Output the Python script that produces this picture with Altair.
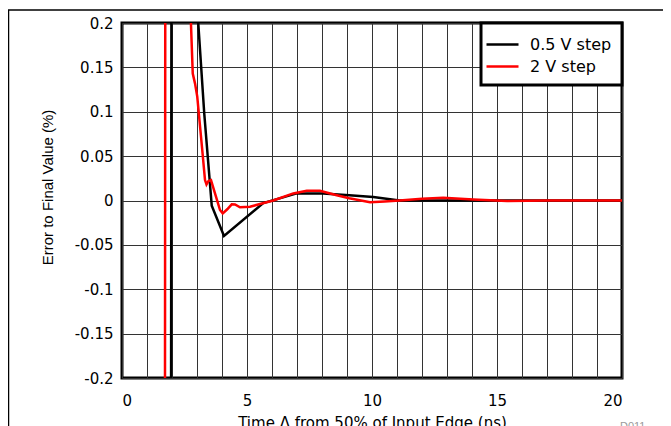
import altair as alt
import pandas as pd

# 0.5 V step (black)
t_05 = [1.94, 2.00, 2.5, 2.95, 3.05, 3.29, 3.59, 4.08, 5.65, 6.99, 8.05, 9.09, 10.05, 11.1, 20.0]
v_05 = [-1.0, 1.0, 1.5, 0.25, 0.2, 0.098, -0.006, -0.040, -0.003, 0.008, 0.008, 0.006, 0.004, 0.0, 0.0]

# 2 V step (red)
t_2 = [1.70, 1.75, 2.3, 2.70, 2.76, 2.83, 2.92, 3.01, 3.20, 3.32, 3.38, 3.46, 3.56, 3.72, 3.92,
       4.03, 4.21, 4.39, 4.52, 4.72, 5.12, 5.52, 6.05, 6.85, 7.39, 7.92, 8.59, 9.09, 9.92, 10.5,
       11.1, 12.0, 12.85, 14.05, 15.4, 17.0, 20.0]
v_2 = [-1.0, 1.0, 1.5, 0.35, 0.198, 0.143, 0.132, 0.117, 0.06, 0.023, 0.018, 0.022, 0.023, 0.008, -0.0107,
       -0.0145, -0.0099, -0.0043, -0.0045, -0.0077, -0.007, -0.004, 0.0, 0.008, 0.011, 0.011, 0.006, 0.0025, -0.002, -0.001,
       0.0, 0.002, 0.003, 0.001, -0.0005, 0.0, 0.0]

series_names = ["0.5 V step", "2 V step"]
series_colors = ["black", "#ff0000"]

x_ticks = list(range(0, 21))
y_ticks = [-0.2, -0.15, -0.1, -0.05, 0, 0.05, 0.1, 0.15, 0.2]

x_title = "Time \u0394 from 50% of Input Edge (ns)"
y_title = "Error to Final Value (%)"
corner_note = "D011"

df = pd.concat([
    pd.DataFrame({"t": t_05, "v": v_05, "series": series_names[0], "idx": range(len(t_05))}),
    pd.DataFrame({"t": t_2, "v": v_2, "series": series_names[1], "idx": range(len(t_2))}),
], ignore_index=True)

hfont = "DejaVu Sans"

lines = alt.Chart(df).mark_line(clip=True, strokeWidth=2.5).encode(
    x=alt.X("t:Q", scale=alt.Scale(domain=[0, 20], nice=False),
            axis=alt.Axis(values=x_ticks, title=x_title,
                          labelExpr="datum.value % 5 == 0 ? datum.label : ''",
                          labelPadding=15, labelFont=hfont, labelFontSize=15,
                          titleFont=hfont, titleFontSize=15, titleFontWeight="normal",
                          titleBaseline="top", titleY=37, titleX=250, titleAlign="center")),
    y=alt.Y("v:Q", scale=alt.Scale(domain=[-0.2, 0.2], nice=False, zero=False),
            axis=alt.Axis(values=y_ticks, title=y_title,
                          labelExpr="replace(format(datum.value, '.2~f'), '\u2212', '-')",
                          labelPadding=9, labelFont=hfont, labelFontSize=15,
                          titleFont="Liberation Sans", titleFontSize=15, titleFontWeight="normal",
                          titleAngle=270, titleAlign="center", titleBaseline="middle",
                          titleX=-75, titleY=164)),
    color=alt.Color("series:N", scale=alt.Scale(domain=series_names, range=series_colors),
                    legend=alt.Legend(title=None, orient="top-right", offset=0,
                                      fillColor="white", strokeColor="black", padding=10,
                                      symbolType="M-1.6,0H1.6", symbolStrokeWidth=2.5, symbolSize=400,
                                      symbolFillColor="transparent",
                                      labelFont=hfont, labelFontSize=16, labelColor="black",
                                      rowPadding=2, labelOffset=16, labelLimit=300)),
    order="idx:Q",
)

dummy = pd.DataFrame({"a": [0]})
top_line = alt.Chart(dummy).mark_rule(color="black", strokeWidth=1.5).encode(
    x=alt.value(-114), x2=alt.value(541), y=alt.value(-13))
left_line = alt.Chart(dummy).mark_rule(color="black", strokeWidth=1.5).encode(
    x=alt.value(-113.5), y=alt.value(-13), y2=alt.value(410))
note = alt.Chart(dummy).mark_text(align="left", baseline="top", fontSize=11, color="#9a9a9a",
                                  font="Liberation Sans").encode(
    x=alt.value(498), y=alt.value(398), text=alt.value(corner_note))

chart = alt.layer(lines, top_line, left_line, note).properties(
    width=500, height=355,
    autosize=alt.AutoSizeParams(type="none"),
    padding={"left": 114, "top": 15, "right": 41, "bottom": 48},
).configure_view(
    stroke="black", strokeWidth=3
).configure_axis(
    ticks=False, domain=False, grid=True, gridColor="#333333", gridWidth=1,
    labelColor="black", titleColor="black"
).configure_legend(
    strokeWidth=3
)

chart.save("out.html", embed_options={"renderer": "svg", "actions": False})
